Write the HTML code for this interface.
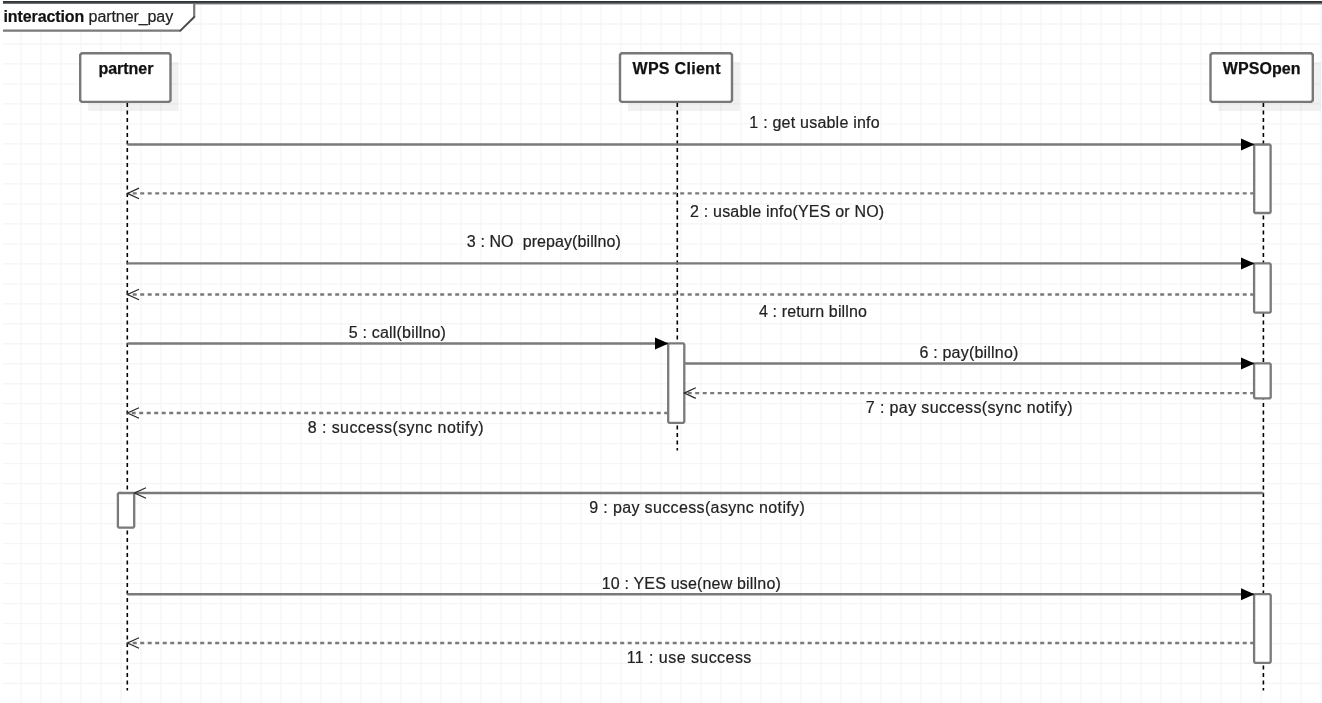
<!DOCTYPE html><html><head><meta charset="utf-8"><title>partner_pay</title><style>html,body{margin:0;padding:0;background:#fff;overflow:hidden}svg{display:block;will-change:transform}text{font-family:"Liberation Sans",sans-serif;font-size:16px;stroke:#222;stroke-width:0.2px}</style></head><body>
<svg width="1322" height="703" viewBox="0 0 1322 703">
<rect x="0" y="0" width="1322" height="703" fill="#fff"/>
<path d="M21 4V703M41 4V703M61 4V703M81 4V703M101 4V703M121 4V703M141 4V703M161 4V703M181 4V703M201 4V703M221 4V703M241 4V703M261 4V703M281 4V703M301 4V703M321 4V703M341 4V703M361 4V703M381 4V703M401 4V703M421 4V703M441 4V703M461 4V703M481 4V703M501 4V703M521 4V703M541 4V703M561 4V703M581 4V703M601 4V703M621 4V703M641 4V703M661 4V703M681 4V703M701 4V703M721 4V703M741 4V703M761 4V703M781 4V703M801 4V703M821 4V703M841 4V703M861 4V703M881 4V703M901 4V703M921 4V703M941 4V703M961 4V703M981 4V703M1001 4V703M1021 4V703M1041 4V703M1061 4V703M1081 4V703M1101 4V703M1121 4V703M1141 4V703M1161 4V703M1181 4V703M1201 4V703M1221 4V703M1241 4V703M1261 4V703M1281 4V703M1301 4V703M1321 4V703" stroke="#f7f7f7" stroke-width="1.5" fill="none"/>
<path d="M3 24.00H1322M3 43.98H1322M3 63.97H1322M3 83.95H1322M3 103.94H1322M3 123.92H1322M3 143.91H1322M3 163.89H1322M3 183.88H1322M3 203.87H1322M3 223.85H1322M3 243.83H1322M3 263.82H1322M3 283.81H1322M3 303.79H1322M3 323.77H1322M3 343.76H1322M3 363.75H1322M3 383.73H1322M3 403.71H1322M3 423.70H1322M3 443.69H1322M3 463.67H1322M3 483.65H1322M3 503.64H1322M3 523.62H1322M3 543.61H1322M3 563.60H1322M3 583.58H1322M3 603.56H1322M3 623.55H1322M3 643.53H1322M3 663.52H1322M3 683.50H1322M3 703.49H1322" stroke="#f5f5f5" stroke-width="1.3" fill="none"/>
<rect x="3" y="1" width="1319" height="1" fill="#2e3236"/>
<rect x="3" y="2" width="1319" height="1" fill="#3f4346"/>
<rect x="3" y="3" width="1319" height="1" fill="#6e7070"/>
<rect x="3" y="4" width="1319" height="1" fill="#c4c4c4"/>
<path d="M3 4H194V17L180.4 30.6H3Z" fill="#fff"/>
<path d="M194.2 4V17M180.4 30.6H3" stroke="#7a7a7a" stroke-width="2.2" fill="none"/>
<path d="M194.2 17L180.4 30.6" stroke="#4a4a4a" stroke-width="2" fill="none" stroke-linecap="round"/>
<text id="frame" x="3.4" y="22.4" textLength="169.74" lengthAdjust="spacing" fill="#222222"><tspan font-weight="bold" style="fill:#111;stroke:#111">interaction</tspan> partner_pay</text>
<rect x="88.2" y="62" width="90.3" height="49" fill="#000" fill-opacity="0.055"/>
<path d="M81.7 53.3H169.0L170.5 54.8V100.4L169.0 101.9H81.7L80.2 100.4V54.8Z" fill="#fff" stroke="#787878" stroke-width="2.4"/>
<text id="partner" x="125.9" y="74.4" text-anchor="middle" textLength="55.03" lengthAdjust="spacing" font-weight="bold" style="stroke:#111;fill:#111;stroke-width:0.25px" fill="#222222">partner</text>
<rect x="628" y="62" width="112" height="49" fill="#000" fill-opacity="0.055"/>
<path d="M621.5 53.3H730.5L732 54.8V100.4L730.5 101.9H621.5L620 100.4V54.8Z" fill="#fff" stroke="#787878" stroke-width="2.4"/>
<text id="wpsc" x="676.5" y="74.4" text-anchor="middle" textLength="88.04" lengthAdjust="spacing" font-weight="bold" style="stroke:#111;fill:#111;stroke-width:0.25px" fill="#222222">WPS Client</text>
<rect x="1218.5" y="62" width="102.29999999999995" height="49" fill="#000" fill-opacity="0.055"/>
<path d="M1212.0 53.3H1311.3L1312.8 54.8V100.4L1311.3 101.9H1212.0L1210.5 100.4V54.8Z" fill="#fff" stroke="#787878" stroke-width="2.4"/>
<text id="wpso" x="1261.7" y="74.4" text-anchor="middle" textLength="77.74" lengthAdjust="spacing" font-weight="bold" style="stroke:#111;fill:#111;stroke-width:0.25px" fill="#222222">WPSOpen</text>
<path d="M127.3 103V690.5" stroke="#000" stroke-width="1.6" stroke-dasharray="4 3.5" fill="none"/>
<path d="M677.3 103V450.5" stroke="#000" stroke-width="1.6" stroke-dasharray="4 3.5" fill="none"/>
<path d="M1263.4 103V690.5" stroke="#000" stroke-width="1.6" stroke-dasharray="4 3.5" fill="none"/>
<path d="M1255.2 144.5H1269.6L1270.6 145.5V212L1269.6 213H1255.2L1254.2 212V145.5Z" fill="#fff" stroke="#7a7a7a" stroke-width="2.3"/>
<path d="M1255.1 263.4H1269.7L1270.7 264.4V311.7L1269.7 312.7H1255.1L1254.1 311.7V264.4Z" fill="#fff" stroke="#7a7a7a" stroke-width="2.3"/>
<path d="M669.2 343.45H683.3L684.3 344.45V421.8L683.3 422.8H669.2L668.2 421.8V344.45Z" fill="#fff" stroke="#7a7a7a" stroke-width="2.3"/>
<path d="M1255.1 363.45H1269.7L1270.7 364.45V397.4L1269.7 398.4H1255.1L1254.1 397.4V364.45Z" fill="#fff" stroke="#7a7a7a" stroke-width="2.3"/>
<path d="M118.9 493.0H133.2L134.2 494.0V526.6L133.2 527.6H118.9L117.9 526.6V494.0Z" fill="#fff" stroke="#7a7a7a" stroke-width="2.3"/>
<path d="M1255.1 594.2H1269.7L1270.7 595.2V661.8L1269.7 662.8H1255.1L1254.1 661.8V595.2Z" fill="#fff" stroke="#7a7a7a" stroke-width="2.3"/>
<path d="M127.3 144.5H1254.2" stroke="#7a7a7a" stroke-width="2.4" fill="none"/>
<path d="M1254.5 144.5L1241.0 138.5V150.5Z" fill="#000"/>
<text id="m1" x="814.5" y="128" text-anchor="middle" textLength="130.31" lengthAdjust="spacing" fill="#222222">1 : get usable info</text>
<path d="M1254.2 193.4H127.3" stroke="#7a7a7a" stroke-width="2.4" stroke-dasharray="4 3.5" fill="none"/>
<path d="M139.0 188.1L127.5 193.4L139.0 198.70000000000002" stroke="#2a2a2a" stroke-width="1.25" fill="none"/>
<text id="m2" x="787.1" y="216.6" text-anchor="middle" textLength="194.02" lengthAdjust="spacing" fill="#222222">2 : usable info(YES or NO)</text>
<path d="M127.3 263.4H1254.2" stroke="#7a7a7a" stroke-width="2.4" fill="none"/>
<path d="M1254.5 263.4L1241.0 257.4V269.4Z" fill="#000"/>
<text id="m3" x="543.8" y="247" text-anchor="middle" textLength="153.86" lengthAdjust="spacing" fill="#222222">3 : NO&#160; prepay(billno)</text>
<path d="M1254.2 294.5H127.3" stroke="#7a7a7a" stroke-width="2.4" stroke-dasharray="4 3.5" fill="none"/>
<path d="M139.0 289.2L127.5 294.5L139.0 299.8" stroke="#2a2a2a" stroke-width="1.25" fill="none"/>
<text id="m4" x="812.9" y="316.8" text-anchor="middle" textLength="108.04" lengthAdjust="spacing" fill="#222222">4 : return billno</text>
<path d="M127.3 343.45H668.2" stroke="#7a7a7a" stroke-width="2.4" fill="none"/>
<path d="M668.5 343.45L655.0 337.45V349.45Z" fill="#000"/>
<text id="m5" x="397.4" y="337.7" text-anchor="middle" textLength="97.07" lengthAdjust="spacing" fill="#222222">5 : call(billno)</text>
<path d="M684.3 363.45H1254.2" stroke="#7a7a7a" stroke-width="2.4" fill="none"/>
<path d="M1254.5 363.45L1241.0 357.45V369.45Z" fill="#000"/>
<text id="m6" x="968.9" y="357.7" text-anchor="middle" textLength="99.05" lengthAdjust="spacing" fill="#222222">6 : pay(billno)</text>
<path d="M1254.2 393.1H684.3" stroke="#7a7a7a" stroke-width="2.4" stroke-dasharray="4 3.5" fill="none"/>
<path d="M695.8 387.8L684.3 393.1L695.8 398.40000000000003" stroke="#2a2a2a" stroke-width="1.25" fill="none"/>
<text id="m7" x="969.2" y="413" text-anchor="middle" textLength="206.82" lengthAdjust="spacing" fill="#222222">7 : pay success(sync notify)</text>
<path d="M668.2 413H127.3" stroke="#7a7a7a" stroke-width="2.4" stroke-dasharray="4 3.5" fill="none"/>
<path d="M139.0 407.7L127.5 413L139.0 418.3" stroke="#2a2a2a" stroke-width="1.25" fill="none"/>
<text id="m8" x="395.7" y="433.3" text-anchor="middle" textLength="175.98" lengthAdjust="spacing" fill="#222222">8 : success(sync notify)</text>
<path d="M1263.4 493.0H134.2" stroke="#7a7a7a" stroke-width="2.4" fill="none"/>
<path d="M146.0 487.7L134.5 493.0L146.0 498.3" stroke="#2a2a2a" stroke-width="1.25" fill="none"/>
<text id="m9" x="697" y="512.7" text-anchor="middle" textLength="215.62" lengthAdjust="spacing" fill="#222222">9 : pay success(async notify)</text>
<path d="M127.3 594.2H1254.2" stroke="#7a7a7a" stroke-width="2.4" fill="none"/>
<path d="M1254.5 594.2L1241.0 588.2V600.2Z" fill="#000"/>
<text id="m10" x="691.3" y="589.1" text-anchor="middle" textLength="179.02" lengthAdjust="spacing" fill="#222222">10 : YES use(new billno)</text>
<path d="M1254.2 643.0H127.3" stroke="#7a7a7a" stroke-width="2.4" stroke-dasharray="4 3.5" fill="none"/>
<path d="M139.0 637.7L127.5 643.0L139.0 648.3" stroke="#2a2a2a" stroke-width="1.25" fill="none"/>
<text id="m11" x="689" y="662.9" text-anchor="middle" textLength="124.68" lengthAdjust="spacing" fill="#222222">11 : use success</text>
</svg></body></html>
